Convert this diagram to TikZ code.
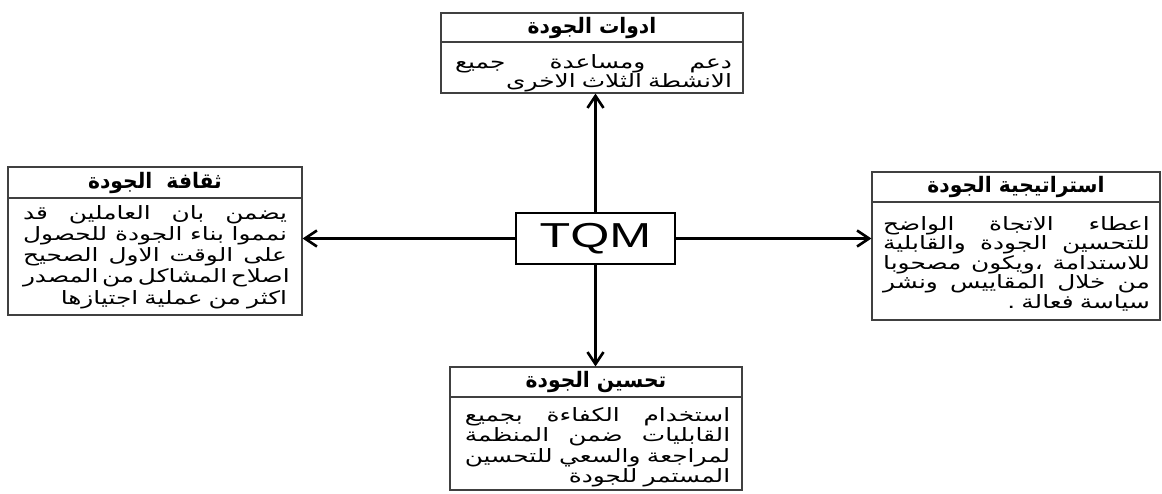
\documentclass[tikz,border=0pt]{standalone}
\usepackage{graphicx}
\usepackage{fontspec}
\setmainfont{DejaVu Sans}
\newfontfamily\arabicfont[Script=Arabic,FakeStretch=1.35]{DejaVu Sans}
\newfontfamily\arabichead[Script=Arabic,FakeStretch=0.95]{DejaVu Sans}
\newfontfamily\tqmfont{Liberation Sans}
\TeXXeTstate=1
\usetikzlibrary{arrows.meta}
\newcommand{\jl}[1]{\makebox[\linewidth][s]{\arabicfont\spaceskip=0.2em plus 1fil\relax\beginR #1\endR}}
\newcommand{\rl}[1]{{\arabicfont\beginR #1\endR}}
\tikzset{
  boxframe/.style={draw=black!75, line width=0.8pt, rectangle, inner sep=0pt},
  sepline/.style={draw=black!75, line width=0.8pt},
  headtext/.style={inner sep=0pt, font=\arabichead\bfseries\fontsize{16pt}{17pt}\selectfont},
  bodytext/.style={inner sep=0pt, anchor=north, align=right, font=\arabicfont\fontsize{13.8pt}{15.9pt}\selectfont},
  conn/.style={line width=2.2pt, -{Straight Barb[length=9pt,width=12pt,line width=2pt]}},
}
\begin{document}
\begin{tikzpicture}[x=0.75pt,y=-0.75pt]
\useasboundingbox (0,0) rectangle (1162,493);
% boxes
\node[boxframe, minimum width=226.5pt, minimum height=60pt] (top) at (592,53) {};
\node[boxframe, minimum width=220.5pt, minimum height=111pt] (left) at (155,241) {};
\node[boxframe, minimum width=216pt, minimum height=111pt] (right) at (1016,246) {};
\node[boxframe, minimum width=219pt, minimum height=92.25pt] (bottom) at (596,428.5) {};
\node[draw=black, line width=1.6pt, rectangle, minimum width=119.25pt, minimum height=38.25pt, inner sep=0pt] (tqm) at (595.5,238.5)
  {\tqmfont\fontsize{26pt}{26pt}\selectfont\scalebox{1.45}[1]{TQM}};
% separators
\draw[sepline] (441,42) -- (743,42);
\draw[sepline] (8,198) -- (302,198);
\draw[sepline] (872,202) -- (1160,202);
\draw[sepline] (450,397) -- (742,397);
% headers
\node[headtext] (toph) at (592,27.5) {\beginR ادوات الجودة\endR};
\node[headtext] (lefth) at (155,182.5) {\beginR ثقافة\ \ الجودة\endR};
\node[headtext] (righth) at (1016,187) {\beginR استراتيجية الجودة\endR};
\node[headtext] (bottomh) at (596,382) {\beginR تحسين الجودة\endR};
% bodies
\node[bodytext, text width=207.75pt, font=\arabicfont\fontsize{13.8pt}{14.3pt}\selectfont] (topb) at (593.5,54) {\jl{دعم ومساعدة جميع}\\ \rl{الانشطة الثلاث الاخرى}};
\node[bodytext, text width=198pt] (leftb) at (155,205) {\jl{يضمن بان العاملين قد}\\ \jl{نمموا بناء الجودة للحصول}\\ \jl{على الوقت الاول الصحيح}\\ \jl{اصلاح المشاكل من المصدر}\\ \rl{اكثر من عملية اجتيازها}};
\node[bodytext, text width=200pt, font=\arabicfont\fontsize{13.8pt}{14.6pt}\selectfont] (rightb) at (1016.5,216) {\jl{اعطاء الاتجاة الواضح}\\ \jl{للتحسين الجودة والقابلية}\\ \jl{للاستدامة ،ويكون مصحوبا}\\ \jl{من خلال المقاييس ونشر}\\ \rl{سياسة فعالة .}};
\node[bodytext, text width=199pt, font=\arabicfont\fontsize{13.8pt}{15.4pt}\selectfont] (bottomb) at (597.5,407) {\jl{استخدام الكفاءة بجميع}\\ \jl{القابليات ضمن المنظمة}\\ \jl{لمراجعة والسعي للتحسين}\\ \rl{المستمر للجودة}};
% connectors
\draw[conn] (tqm.north) -- (tqm.north |- top.south);
\draw[conn] (tqm.west) -- (tqm.west -| left.east);
\draw[conn] (tqm.east) -- (tqm.east -| right.west);
\draw[conn] (tqm.south) -- (tqm.south |- bottom.north);
\end{tikzpicture}
\end{document}
